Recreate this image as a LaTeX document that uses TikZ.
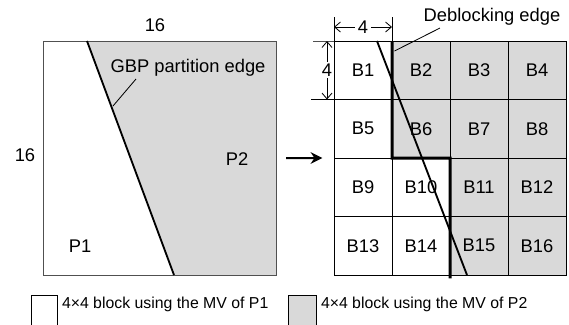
\documentclass[tikz,border=0pt]{standalone}
\usepackage{fontspec}
\setmainfont{Liberation Sans}
\usepackage{tikz}
\usetikzlibrary{arrows.meta,positioning,calc}
\definecolor{PartGray}{HTML}{D9D9D9}
\definecolor{EdgeGray}{HTML}{505050}
\tikzset{
  % grid cell
  cell/.style={rectangle,draw=black,line width=0.6pt,
               minimum width=34.8pt,minimum height=35.1pt,
               inner sep=0pt,outer sep=0pt,font=\fontsize{11}{13}\selectfont},
  cW/.style={cell,fill=white},
  cG/.style={cell,fill=PartGray},
  % legend box
  legbox/.style={rectangle,draw=black,line width=0.6pt,
                 minimum width=15.6pt,minimum height=18pt,inner sep=0pt},
  % text
  lbl/.style={font=\fontsize{11}{13}\selectfont,inner sep=1pt},
  leglbl/.style={font=\fontsize{9.5}{11}\selectfont,inner sep=1pt,anchor=west},
  % lines
  lead/.style={line width=0.5pt},
  dimln/.style={line width=0.5pt},
  dimarr/.style={{Straight Barb[length=3.5pt,width=6pt]}-{Straight Barb[length=3.5pt,width=6pt]},line width=0.5pt},
  deb/.style={line width=1.8pt,line cap=butt},
  part/.style={line width=1.1pt},
  bigarr/.style={-{Stealth[length=7pt,width=7pt]},line width=1.2pt}
}
\begin{document}
\begin{tikzpicture}[x=0.6pt,y=-0.6pt]
  \useasboundingbox (0,0) rectangle (569,324);

  % left: 16x16 block with partition
  \fill[PartGray] (87,41) -- (276,41) -- (276,275) -- (174,275) -- cycle;
  \node[draw=EdgeGray,line width=0.6pt,minimum width=139.8pt,minimum height=140.4pt,
        inner sep=0pt,outer sep=0pt] (mb) at (159.5,158) {};
  \coordinate (pt) at (87,41);
  \coordinate (pb) at (174,275);
  \draw[part] (pt) -- (pb);
  \coordinate (pm) at (113,106);
  \node[lbl] (gbp) at (188,68) {GBP partition edge};
  \draw[lead] (136,79) -- (pm);
  \node[lbl] (p1) at (80,246) {P1};
  \node[lbl] (p2) at (237,159) {P2};
  \node[lbl] (wtop) at (155,25) {16};
  \node[lbl] (wleft) at (25,155) {16};

  % right: 4x4 blocks
  \foreach \n/\c in {1/W,2/G,3/G,4/G,5/W,6/G,7/G,8/G,9/W,10/W,11/G,12/G,13/W,14/W,15/G,16/G}{
    \pgfmathtruncatemacro{\col}{mod(\n-1,4)}
    \pgfmathtruncatemacro{\row}{div(\n-1,4)}
    \node[c\c] (b\n) at ({363+58*\col},{70.25+58.5*\row}) {B\n};
  }

  % partition edge over the blocks
  \draw[part] ($(b1.north west)+(43,0)$) -- ($(b15.south west)+(17,0)$);

  % deblocking edge
  \draw[deb] (b2.north west) -- (b6.south west) -- (b10.north east) -- ([yshift=-2pt]b14.south east);
  \node[lbl] (dbl) at (492,17) {Deblocking edge};
  \draw[lead] (440,28) -- ([xshift=1.5pt,yshift=-6pt]b2.north west);

  % dimensions
  \draw[dimln] (b1.north west) -- ++(0,-24);
  \draw[dimln] (b1.north east) -- ++(0,-24);
  \draw[dimarr] ($(b1.north west)+(0,-14)$) -- ($(b1.north east)+(0,-14)$)
        node[midway,fill=white,lbl,inner sep=1.5pt] {4};
  \draw[dimln,draw=EdgeGray] (b1.north west) -- ++(-21,0);
  \draw[dimln] (b1.south west) -- ++(-23,0);
  \draw[dimarr] ($(b1.north west)+(-7,0)$) -- ($(b1.south west)+(-7,0)$)
        node[midway,fill=white,lbl,inner sep=1pt] {4};

  % arrow between
  \draw[bigarr] ([xshift=6pt]mb.east) -- ([xshift=-7pt]b9.north west);

  % legend
  \node[legbox,fill=white] (lw) at (44,310) {};
  \node[leglbl] (lwt) at (60,304) {4×4 block using the MV of P1};
  \node[legbox,fill=PartGray,minimum width=16.8pt] (lg) at (302,310) {};
  \node[leglbl] (lgt) at (319,304) {4×4 block using the MV of P2};
\end{tikzpicture}
\end{document}
